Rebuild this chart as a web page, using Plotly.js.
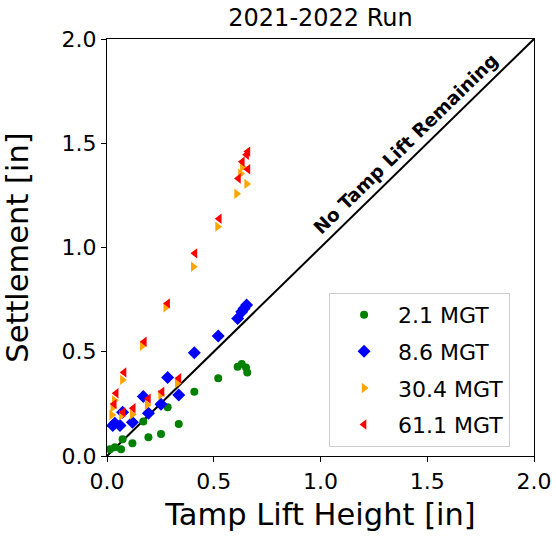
<!DOCTYPE html>
<html>
<head>
<meta charset="utf-8">
<script src="https://cdn.plot.ly/plotly-3.0.1.min.js"></script>
<style>html,body{margin:0;padding:0;background:#fff;}#chart{width:556px;height:540px;}</style>
</head>
<body>
<div id="chart"></div>
<script>
// Series data (Tamp lift height [in] vs settlement [in])
var seriesNames = ["2.1 MGT", "8.6 MGT", "30.4 MGT", "61.1 MGT"];

var greenX = [0.014, 0.037, 0.066, 0.073, 0.119, 0.170, 0.194, 0.253, 0.284, 0.336, 0.409, 0.521, 0.612, 0.631, 0.651, 0.657];
var greenY = [0.032, 0.042, 0.032, 0.080, 0.061, 0.165, 0.090, 0.106, 0.234, 0.153, 0.308, 0.373, 0.428, 0.441, 0.425, 0.400];

var blueX = [0.027, 0.037, 0.061, 0.073, 0.119, 0.170, 0.194, 0.253, 0.284, 0.336, 0.409, 0.521, 0.612, 0.631, 0.642, 0.654];
var blueY = [0.146, 0.157, 0.146, 0.210, 0.162, 0.285, 0.205, 0.248, 0.377, 0.293, 0.495, 0.576, 0.660, 0.692, 0.708, 0.724];

var orangeX = [0.022, 0.027, 0.034, 0.068, 0.072, 0.118, 0.165, 0.188, 0.251, 0.275, 0.329, 0.404, 0.518, 0.607, 0.625, 0.634, 0.654];
var orangeY = [0.197, 0.233, 0.267, 0.195, 0.365, 0.199, 0.529, 0.245, 0.293, 0.713, 0.349, 0.908, 1.100, 1.258, 1.354, 1.386, 1.305];

var redX = [0.034, 0.043, 0.075, 0.080, 0.123, 0.175, 0.194, 0.258, 0.284, 0.337, 0.412, 0.526, 0.616, 0.634, 0.654, 0.660, 0.660];
var redY = [0.249, 0.301, 0.210, 0.401, 0.229, 0.548, 0.275, 0.308, 0.732, 0.373, 0.972, 1.138, 1.331, 1.411, 1.445, 1.460, 1.375];

// Reference line: no tamp lift remaining (settlement = lift)
var refLineX = [0, 2];
var refLineY = [0, 2];

var tickVals = [0, 0.5, 1.0, 1.5, 2.0];
var tickText = ["0.0", "0.5", "1.0", "1.5", "2.0"];

var FONT = "DejaVu Sans, Liberation Sans, sans-serif";

var traces = [
  {x: refLineX, y: refLineY, type: "scatter", mode: "lines",
   line: {color: "#000000", width: 2}, showlegend: false, hoverinfo: "skip"},
  {x: greenX, y: greenY, name: seriesNames[0], type: "scatter", mode: "markers", legendgroup: "g1",
   marker: {symbol: "circle", size: 8, color: "#008000"}},
  {x: blueX, y: blueY, name: seriesNames[1], type: "scatter", mode: "markers", legendgroup: "g2",
   marker: {symbol: "diamond", size: 10, color: "#0000ff"}},
  {x: orangeX, y: orangeY, name: seriesNames[2], type: "scatter", mode: "markers", legendgroup: "g3",
   marker: {symbol: "triangle-right", size: 9, color: "#ffa500"}},
  {x: redX, y: redY, name: seriesNames[3], type: "scatter", mode: "markers", legendgroup: "g4",
   marker: {symbol: "triangle-left", size: 9, color: "#ff0000"}}
];

var axisCommon = {
  range: [0, 2],
  tickvals: tickVals,
  ticktext: tickText,
  ticks: "outside",
  ticklen: 5,
  tickwidth: 1,
  tickcolor: "#000",
  showline: true,
  linecolor: "#000",
  linewidth: 1.2,
  mirror: true,
  showgrid: false,
  zeroline: false,
  tickfont: {family: FONT, size: 22, color: "#000"},
  automargin: false
};

var layout = {
  width: 556,
  height: 540,
  margin: {l: 107, r: 22, t: 39, b: 84},
  paper_bgcolor: "#fff",
  plot_bgcolor: "#fff",
  font: {family: FONT, color: "#000"},
  title: {text: "2021-2022 Run", font: {family: FONT, size: 24, color: "#000"},
          x: 0.5765, xanchor: "center", y: 0.967, yanchor: "middle", yref: "container"},
  xaxis: Object.assign({}, axisCommon, {title: {text: "Tamp Lift Height [in]", font: {family: FONT, size: 30.5, color: "#000"}, standoff: 11}}),
  yaxis: Object.assign({}, axisCommon, {title: {text: "Settlement [in]", font: {family: FONT, size: 30.5, color: "#000"}, standoff: 25}}),
  showlegend: true,
  legend: {
    x: 0.944, xanchor: "right", y: 0.391, yanchor: "top",
    bgcolor: "rgba(255,255,255,0.8)", bordercolor: "#cccccc", borderwidth: 1,
    font: {family: FONT, size: 22, color: "#000"},
    itemwidth: 58,
    tracegroupgap: 5
  },
  annotations: [{
    x: 1.40, y: 1.50, xref: "x", yref: "y",
    text: "<b>No Tamp Lift Remaining</b>", showarrow: false,
    textangle: -44.3, font: {family: FONT, size: 18.5, color: "#000"}
  }]
};

Plotly.newPlot("chart", traces, layout, {staticPlot: true, displayModeBar: false});
</script>
</body>
</html>
